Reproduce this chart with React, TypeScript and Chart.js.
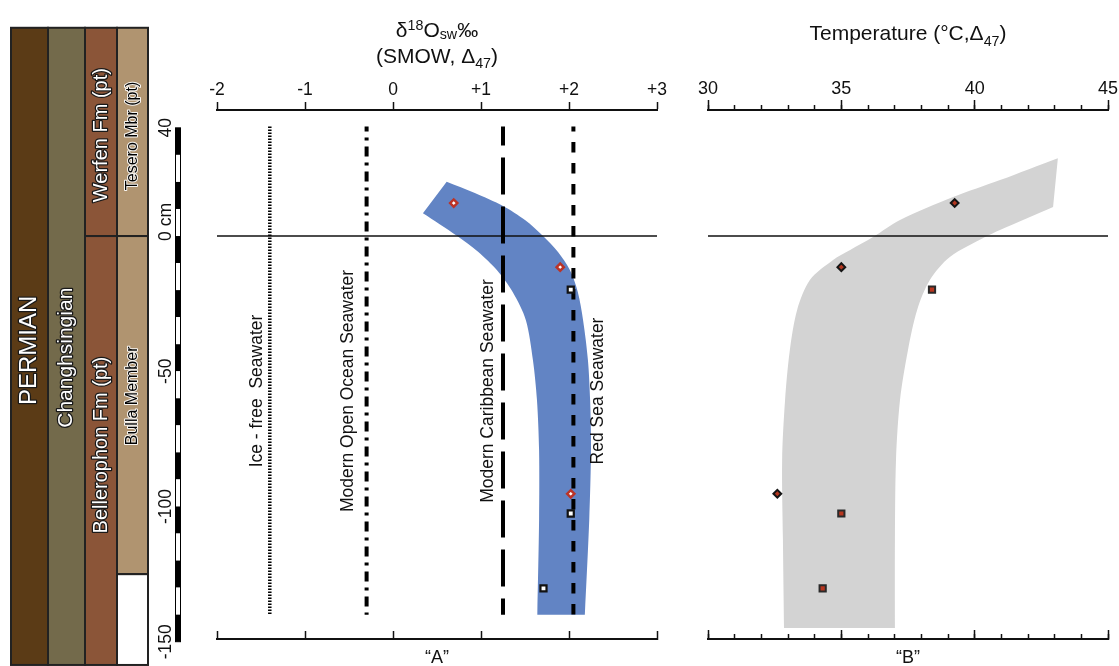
import React, { useEffect, useRef } from 'react';
import { Chart, registerables } from 'chart.js';

Chart.register(...registerables);

const FONT = "'Liberation Sans', Arial, Helvetica, sans-serif";

// ---------- shared depth axis (cm) ----------
const depthMin = -149;
const depthMax = 46.6;
const depthTickValues = [40, 0, -50, -100, -150];
const depthTickLabels = ['40', '0 cm', '-50', '-100', '-150'];
const depthBarTop = 40;
const depthBarBottom = -150;
const depthBarStep = 10;

// ---------- stratigraphic column ----------
const unitLabels = ['PERMIAN', 'Changhsingian', 'Werfen Fm (pt)', 'Bellerophon Fm (pt)', 'Tesero Mbr (pt)', 'Bulla Member', ''];
const unitColumn = [0, 1, 2, 2, 3, 3, 3];
const unitTopDepth = [77, 77, 77, 0, 77, 0, -125];
const unitBottomDepth = [-158.6, -158.6, 0, -158.6, 0, -125, -158.6];
const unitColors = ['#5b3b16', '#736a4b', '#8b5538', '#8b5538', '#b09470', '#b09470', '#ffffff'];
const unitLabelDepth = [-42.3, -45, 37.3, -77.3, 37, -59.1, 0];
const unitLabelSize = [24, 21, 20, 20, 16, 16, 16];
const unitLabelDark = [false, false, false, false, true, true, true];
const columnEdges = [11, 48, 85, 117, 148];

// ---------- sample depths ----------
const diamondDepths = [12.2, -11.5, -95.3];
const squareDepths = [-19.8, -102.6, -130.3];

// ---------- panel A : d18O sw ----------
const aTicks = [-2, -1, 0, 1, 2, 3];
const aTickLabels = ['-2', '-1', '0', '+1', '+2', '+3'];
const aDiamondValues = [0.69, 1.9, 2.02];
const aSquareValues = [2.02, 2.02, 1.71];
const refNames = ['Ice - free  Seawater', 'Modern Open Ocean Seawater', 'Modern Caribbean Seawater', 'Red Sea Seawater'];
const refValues = [-1.4, -0.3, 1.25, 2.05];
const refTopDepth = 40.5;
const refBottomDepth = -140;
const refLabelValues = [-1.545, -0.51, 1.08, 2.33];
const refLabelDepth = -57.3;
const refDash = [[1.6, 1.4], [10, 6, 3, 6], [37, 12], [10.5, 10.5]];
const refDashOffset = [0, 5, 18, 5.5];
const refWidth = [3.5, 4, 4, 4];
const aBandOuterX = [0.61, 0.93, 1.25, 1.5, 1.705, 1.875, 2.01, 2.1, 2.16, 2.215, 2.24, 2.25, 2.23, 2.18];
const aBandOuterDepth = [20.1, 15.9, 11.1, 5.9, 0, -5.9, -12.6, -20.7, -31.1, -45.8, -60.6, -79.1, -105, -140];
const aBandInnerX = [0.34, 0.53, 0.73, 0.97, 1.18, 1.36, 1.51, 1.59, 1.636, 1.66, 1.66, 1.64];
const aBandInnerDepth = [8.4, 4.4, 0, -5.9, -12.6, -20.7, -31.1, -45.8, -60.6, -79.1, -105, -140];

// ---------- panel B : temperature ----------
const bMajorTicks = [30, 35, 40, 45];
const bDiamondValues = [39.25, 35.0, 32.6];
const bSquareValues = [38.4, 35.0, 34.3];
const bBandOuterX = [43.12, 40.95, 39.19, 37.2, 36.19, 35.33, 34.69, 33.82, 33.34, 33.07, 32.89, 32.78, 32.81, 32.85];
const bBandOuterDepth = [28.8, 20.7, 14.4, 5.9, -0.4, -5.2, -8.9, -16.3, -27.4, -42.1, -60.6, -82.8, -112.4, -144.9];
const bBandInnerX = [42.94, 40.95, 40.39, 39.07, 38.32, 37.84, 37.5, 37.2, 37.05, 37.01, 37.01];
const bBandInnerDepth = [10.7, 2.2, -0.4, -7.8, -16.3, -27.4, -42.1, -60.6, -82.8, -112.4, -144.9];

type Seg = { t: string; s?: 'sup' | 'sub' };
const aTitle1: Seg[] = [{ t: 'δ' }, { t: '18', s: 'sup' }, { t: 'O' }, { t: 'sw', s: 'sub' }, { t: '‰' }];
const aTitle2: Seg[] = [{ t: '(SMOW, Δ' }, { t: '47', s: 'sub' }, { t: ')' }];
const bTitle: Seg[] = [{ t: 'Temperature (°C,Δ' }, { t: '47', s: 'sub' }, { t: ')' }];

function bandPolygon(ox: number[], oy: number[], ix: number[], iy: number[]) {
  const pts: { x: number; y: number }[] = [];
  ox.forEach((x, i) => pts.push({ x, y: oy[i] }));
  pts.push({ x: ox[ox.length - 1], y: oy[oy.length - 1] });
  const n = ix.length;
  pts.push({ x: ix[n - 1], y: iy[n - 1] });
  for (let i = n - 1; i >= 0; i--) pts.push({ x: ix[i], y: iy[i] });
  return pts;
}

function drawRich(ctx: CanvasRenderingContext2D, segs: Seg[], cx: number, baseline: number, size: number, supShift: number, subShift: number) {
  const small = size * 0.68;
  let w = 0;
  for (const g of segs) {
    ctx.font = `${g.s ? small : size}px ${FONT}`;
    w += ctx.measureText(g.t).width;
  }
  let x = cx - w / 2;
  ctx.textAlign = 'left';
  ctx.textBaseline = 'alphabetic';
  ctx.fillStyle = '#111';
  for (const g of segs) {
    ctx.font = `${g.s ? small : size}px ${FONT}`;
    const dy = g.s === 'sup' ? -supShift : g.s === 'sub' ? subShift : 0;
    ctx.fillText(g.t, x, baseline + dy);
    x += ctx.measureText(g.t).width;
  }
}

function rotText(ctx: CanvasRenderingContext2D, text: string, x: number, y: number, size: number, align: CanvasTextAlign, fill: string, stroke?: string, strokeW?: number) {
  ctx.save();
  ctx.translate(x, y);
  ctx.rotate(-Math.PI / 2);
  ctx.font = `${size}px ${FONT}`;
  ctx.textAlign = align;
  ctx.textBaseline = 'middle';
  if (stroke) {
    ctx.lineJoin = 'round';
    ctx.lineWidth = strokeW || 2;
    ctx.strokeStyle = stroke;
    ctx.strokeText(text, 0, 0);
  }
  ctx.fillStyle = fill;
  ctx.fillText(text, 0, 0);
  ctx.restore();
}

const panelAPlugin = {
  id: 'panelADecor',
  afterDraw(chart: any) {
    const ctx: CanvasRenderingContext2D = chart.ctx;
    const ys = chart.scales.y;
    const xs = chart.scales.x;
    const area = chart.chartArea;
    ctx.save();
    // stratigraphic column
    for (let i = 0; i < unitLabels.length; i++) {
      const c = unitColumn[i];
      const x0 = columnEdges[c];
      const x1 = columnEdges[c + 1];
      const y0 = ys.getPixelForValue(unitTopDepth[i]);
      const y1 = ys.getPixelForValue(unitBottomDepth[i]);
      ctx.fillStyle = unitColors[i];
      ctx.fillRect(x0, y0, x1 - x0, y1 - y0);
    }
    ctx.strokeStyle = '#222';
    ctx.lineWidth = 2;
    for (let i = 0; i < unitLabels.length; i++) {
      const c = unitColumn[i];
      const x0 = columnEdges[c];
      const x1 = columnEdges[c + 1];
      const y0 = ys.getPixelForValue(unitTopDepth[i]);
      const y1 = ys.getPixelForValue(unitBottomDepth[i]);
      ctx.strokeRect(x0, y0, x1 - x0, y1 - y0);
    }
    for (let i = 0; i < unitLabels.length; i++) {
      if (!unitLabels[i]) continue;
      const c = unitColumn[i];
      const cx = (columnEdges[c] + columnEdges[c + 1]) / 2;
      const cy = ys.getPixelForValue(unitLabelDepth[i]);
      if (unitLabelDark[i]) rotText(ctx, unitLabels[i], cx, cy, unitLabelSize[i], 'center', '#000000', 'rgba(255,255,255,0.9)', 2);
      else rotText(ctx, unitLabels[i], cx, cy, unitLabelSize[i], 'center', '#ffffff', '#1a1a1a', 2.5);
    }
    // depth scale bar
    const bx = 175.5;
    const bw = 5;
    let k = 0;
    for (let d = depthBarTop; d > depthBarBottom; d -= depthBarStep, k++) {
      const t = ys.getPixelForValue(d);
      const b = ys.getPixelForValue(d - depthBarStep);
      ctx.fillStyle = k % 2 === 0 ? '#000' : '#fff';
      ctx.fillRect(bx, t, bw, b - t);
    }
    ctx.strokeStyle = '#000';
    ctx.lineWidth = 1;
    const yt = ys.getPixelForValue(depthBarTop);
    const yb = ys.getPixelForValue(depthBarBottom);
    ctx.strokeRect(bx, yt, bw, yb - yt);
    for (let i = 0; i < depthTickValues.length; i++) {
      const py = ys.getPixelForValue(depthTickValues[i]);
      if (depthTickLabels[i].indexOf('cm') >= 0) {
        ctx.font = `17.5px ${FONT}`;
        const half = ctx.measureText('0').width / 2;
        rotText(ctx, depthTickLabels[i], 166, py + half, 17.5, 'left', '#111');
      } else {
        rotText(ctx, depthTickLabels[i], 166, py, 17.5, 'center', '#111');
      }
    }
    // reference water labels
    for (let i = 0; i < refNames.length; i++) {
      rotText(ctx, refNames[i], xs.getPixelForValue(refLabelValues[i]), ys.getPixelForValue(refLabelDepth), 17.5, 'center', '#111');
    }
    // axis title
    const cx = (area.left + area.right) / 2;
    drawRich(ctx, aTitle1, cx, 37, 21, 7, 1.5);
    drawRich(ctx, aTitle2, cx, 63, 21, 7, 5);
    ctx.restore();
  },
};

const panelBPlugin = {
  id: 'panelBDecor',
  afterDraw(chart: any) {
    const ctx: CanvasRenderingContext2D = chart.ctx;
    const area = chart.chartArea;
    ctx.save();
    drawRich(ctx, bTitle, (area.left + area.right) / 2, 40, 21, 7, 6);
    ctx.restore();
  },
};

function lineDs(data: any[], extra: any) {
  return { type: 'line', data, pointRadius: 0, borderColor: '#111', borderWidth: 1.5, fill: false, tension: 0, ...extra };
}

function makeConfigA(): any {
  const datasets: any[] = [
    lineDs(diamondDepths.map((d, i) => ({ x: aDiamondValues[i], y: d })), {
      showLine: false, pointStyle: 'rectRot', pointRadius: 3.6, pointBackgroundColor: '#ffffff',
      pointBorderColor: '#bb3327', pointBorderWidth: 2.5, order: 0,
    }),
    lineDs(squareDepths.map((d, i) => ({ x: aSquareValues[i], y: d })), {
      showLine: false, pointStyle: 'rect', pointRadius: 4.3, pointBackgroundColor: '#ffffff',
      pointBorderColor: '#111', pointBorderWidth: 2.2, order: 0,
    }),
    lineDs([{ x: aTicks[0], y: 0 }, { x: aTicks[aTicks.length - 1], y: 0 }], { borderWidth: 1.6, order: 2 }),
    ...refValues.map((v, i) =>
      lineDs([{ x: v, y: refTopDepth }, { x: v, y: refBottomDepth }], {
        borderDash: refDash[i], borderDashOffset: refDashOffset[i], borderWidth: refWidth[i], borderCapStyle: 'butt',
        borderColor: '#000', order: 1,
      })
    ),
    lineDs(bandPolygon(aBandOuterX, aBandOuterDepth, aBandInnerX, aBandInnerDepth), {
      borderWidth: 0, borderColor: 'rgba(0,0,0,0)', backgroundColor: '#6284c4', fill: 'shape', tension: 0.3, order: 5,
    }),
  ];
  return {
    type: 'line',
    data: { datasets },
    options: {
      responsive: false,
      animation: false,
      devicePixelRatio: 1,
      events: [],
      layout: { padding: { left: 217, right: 33, top: 0, bottom: 0 } },
      plugins: { legend: { display: false }, tooltip: { enabled: false } },
      scales: {
        x: {
          type: 'linear', position: 'top', min: -2, max: 3, weight: 1,
          afterBuildTicks: (s: any) => { s.ticks = aTicks.map((v) => ({ value: v })); },
          afterFit: (s: any) => { s.height = 110; },
          ticks: {
            autoSkip: false, maxRotation: 0, padding: 1, color: '#111', font: { family: FONT, size: 17.5 },
            callback: (v: any) => aTickLabels[aTicks.indexOf(Number(v))],
          },
          grid: { drawOnChartArea: false, tickLength: 8, tickWidth: 1.5, tickColor: '#111' },
          border: { display: true, color: '#111', width: 2 },
        },
        xBottom: {
          type: 'linear', position: 'bottom', min: -2, max: 3, weight: 1,
          afterBuildTicks: (s: any) => { s.ticks = aTicks.map((v) => ({ value: v })); },
          afterFit: (s: any) => { s.height = 27; },
          ticks: { display: false },
          grid: { drawOnChartArea: false, tickLength: -8, tickWidth: 1.5, tickColor: '#111' },
          border: { display: true, color: '#111', width: 2 },
          title: { display: true, text: '“A”', color: '#111', font: { family: FONT, size: 18 }, padding: { top: 0, bottom: -3 } },
        },
        y: { type: 'linear', display: false, min: depthMin, max: depthMax },
      },
    },
    plugins: [panelAPlugin],
  };
}

function makeConfigB(): any {
  const datasets: any[] = [
    lineDs(diamondDepths.map((d, i) => ({ x: bDiamondValues[i], y: d })), {
      showLine: false, pointStyle: 'rectRot', pointRadius: 3.9, pointBackgroundColor: '#b2361f',
      pointBorderColor: '#151515', pointBorderWidth: 2, order: 0,
    }),
    lineDs(squareDepths.map((d, i) => ({ x: bSquareValues[i], y: d })), {
      showLine: false, pointStyle: 'rect', pointRadius: 4.4, pointBackgroundColor: '#b8361f',
      pointBorderColor: '#2a2a2a', pointBorderWidth: 2, order: 0,
    }),
    lineDs([{ x: bMajorTicks[0], y: 0 }, { x: bMajorTicks[bMajorTicks.length - 1], y: 0 }], { borderWidth: 1.6, order: 2 }),
    lineDs(bandPolygon(bBandOuterX, bBandOuterDepth, bBandInnerX, bBandInnerDepth), {
      borderWidth: 0, borderColor: 'rgba(0,0,0,0)', backgroundColor: '#d3d3d3', fill: 'shape', tension: 0.3, order: 5,
    }),
  ];
  const fontT = { family: FONT, size: 18 };
  return {
    type: 'line',
    data: { datasets },
    options: {
      responsive: false,
      animation: false,
      devicePixelRatio: 1,
      events: [],
      layout: { padding: { left: 28, right: 32, top: 0, bottom: 0 } },
      plugins: { legend: { display: false }, tooltip: { enabled: false } },
      scales: {
        x: {
          type: 'linear', position: 'top', min: 30, max: 45, weight: 1,
          afterBuildTicks: (s: any) => { s.ticks = bMajorTicks.map((v) => ({ value: v })); },
          afterFit: (s: any) => { s.height = 110; },
          ticks: { autoSkip: false, maxRotation: 0, padding: 0, color: '#111', font: fontT },
          grid: { drawOnChartArea: false, tickLength: 10, tickWidth: 1.5, tickColor: '#111' },
          border: { display: true, color: '#111', width: 2 },
        },
        xMinorTop: {
          type: 'linear', position: 'top', min: 30, max: 45, weight: 0,
          afterFit: (s: any) => { s.height = 0; },
          ticks: { display: false, stepSize: 1, autoSkip: false },
          grid: { drawOnChartArea: false, tickLength: 5, tickWidth: 1.5, tickColor: '#111' },
          border: { display: false },
        },
        xBottom: {
          type: 'linear', position: 'bottom', min: 30, max: 45, weight: 1,
          afterBuildTicks: (s: any) => { s.ticks = bMajorTicks.map((v) => ({ value: v })); },
          afterFit: (s: any) => { s.height = 27; },
          ticks: { display: false },
          grid: { drawOnChartArea: false, tickLength: -9, tickWidth: 1.5, tickColor: '#111' },
          border: { display: true, color: '#111', width: 2 },
          title: { display: true, text: '“B”', color: '#111', font: { family: FONT, size: 18 }, padding: { top: 0, bottom: -3 } },
        },
        xMinorBottom: {
          type: 'linear', position: 'bottom', min: 30, max: 45, weight: 0,
          afterFit: (s: any) => { s.height = 0; },
          ticks: { display: false, stepSize: 1, autoSkip: false },
          grid: { drawOnChartArea: false, tickLength: -5, tickWidth: 1.5, tickColor: '#111' },
          border: { display: false },
        },
        y: { type: 'linear', display: false, min: depthMin, max: depthMax },
      },
    },
    plugins: [panelBPlugin],
  };
}

export default function App() {
  const aRef = useRef<HTMLCanvasElement>(null);
  const bRef = useRef<HTMLCanvasElement>(null);
  useEffect(() => {
    document.body.style.margin = '0';
    const a = new Chart(aRef.current as HTMLCanvasElement, makeConfigA());
    const b = new Chart(bRef.current as HTMLCanvasElement, makeConfigB());
    return () => {
      a.destroy();
      b.destroy();
    };
  }, []);
  return (
    <div style={{ position: 'relative', width: 1119, height: 666, overflow: 'hidden', background: '#fff' }}>
      <canvas ref={aRef} width={690} height={666} style={{ position: 'absolute', left: 0, top: 0 }} />
      <canvas ref={bRef} width={460} height={666} style={{ position: 'absolute', left: 680, top: 0 }} />
    </div>
  );
}
